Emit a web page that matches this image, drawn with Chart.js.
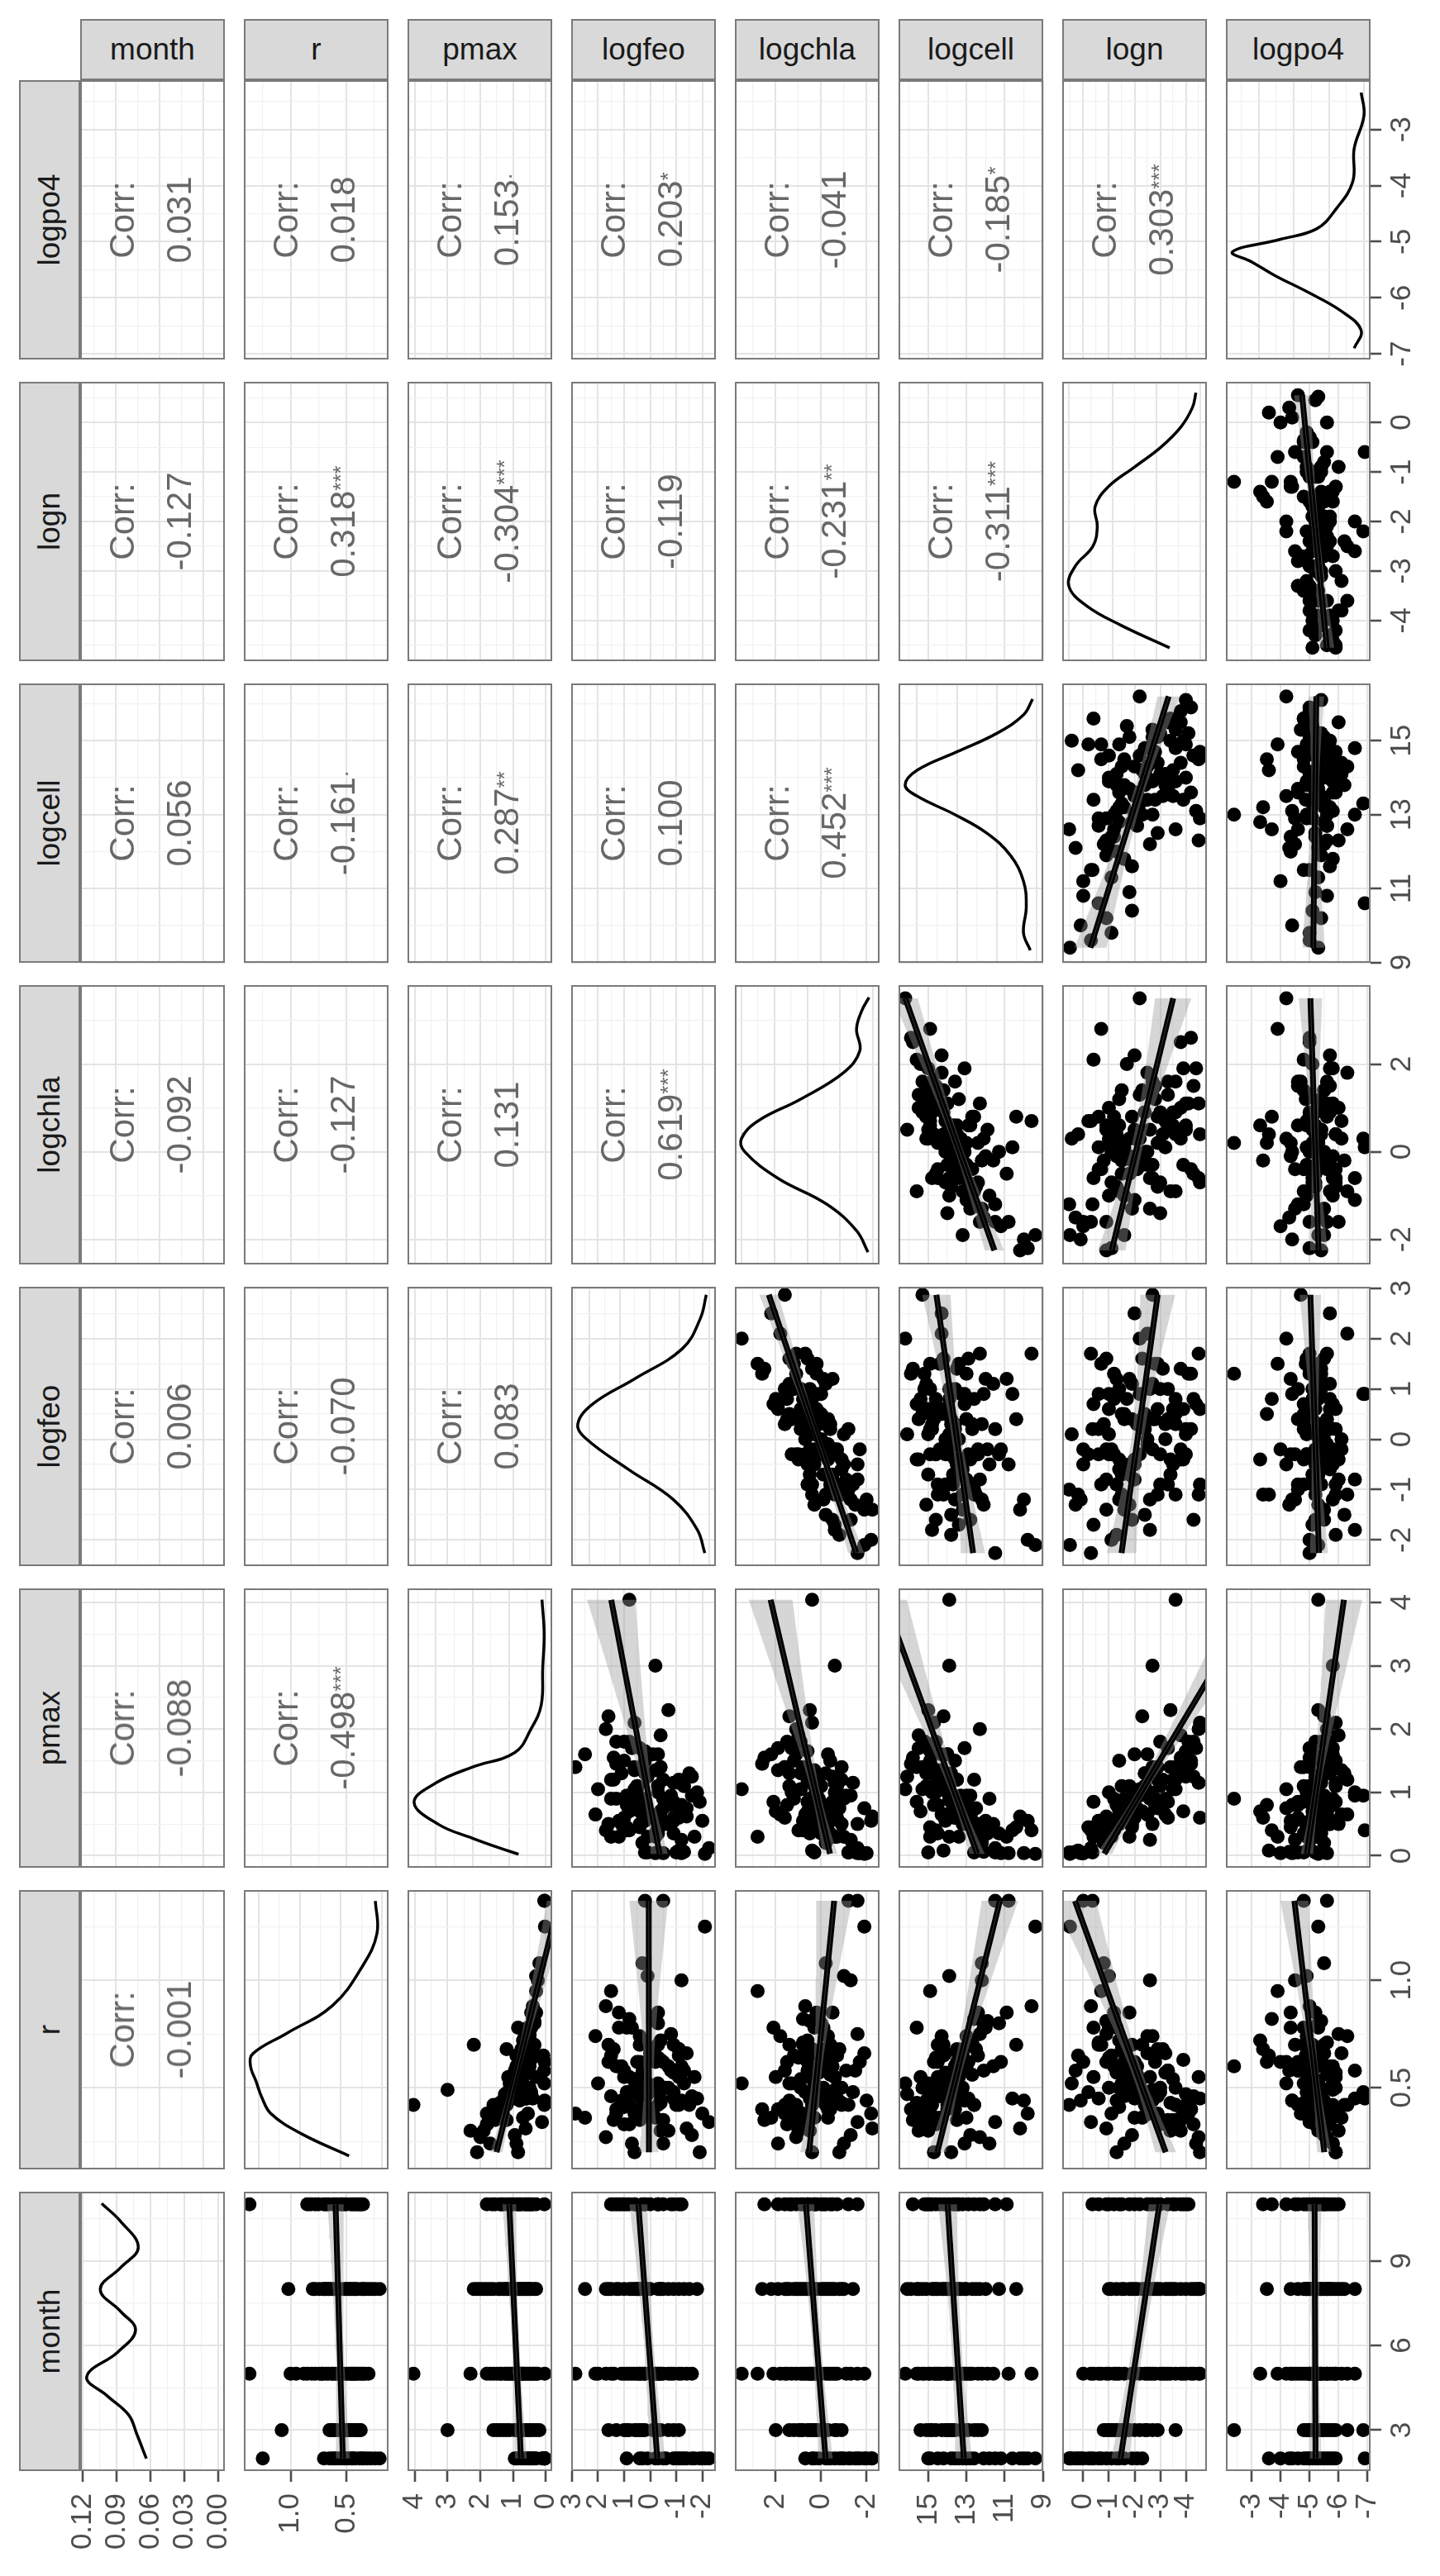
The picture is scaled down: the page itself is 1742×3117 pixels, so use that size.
<!DOCTYPE html>
<html>
<head>
<meta charset="utf-8">
<title>ggpairs</title>
<script src="https://cdn.jsdelivr.net/npm/chart.js@4.4.1/dist/chart.umd.min.js"></script>
<style>
  html, body { margin: 0; padding: 0; background: #fff; }
  body { position: relative; width: 1742px; height: 3117px; overflow: hidden; font-family: "Liberation Sans", Arial, sans-serif; }
  canvas { position: absolute; }
  .frame { position: absolute; box-sizing: border-box; border: 2px solid #7a7a7a; pointer-events: none; }
  .strip { position: absolute; box-sizing: border-box; background: #d9d9d9; border: 2px solid #7a7a7a; color: #1a1a1a; font-size: 37px; display: flex; align-items: center; justify-content: center; }
  .strip span { flex-shrink: 0; white-space: nowrap; }
  .strip.side span { transform: rotate(-90deg); }
  .corr { position: absolute; transform: translate(-50%, -50%) rotate(-90deg); font-size: 42px; line-height: 69px; color: #676767; text-align: center; white-space: nowrap; }
  .corr .sig { font-size: 26px; position: relative; top: -8px; }
</style>
</head>
<body>
<script>
// variables, in the order of the pairs plot
const varNames = ['month', 'r', 'pmax', 'logfeo', 'logchla', 'logcell', 'logn', 'logpo4'];

// samples (same order in every array), grouped by month
const month = [2,2,2,2,2,2,2,2,2,2,2,2,2,2,2,2,2,2,2,2,
  3,3,3,3,3,3,3,3,3,3,3,3,3,3,3,3,3,3,
  5,5,5,5,5,5,5,5,5,5,5,5,5,5,5,5,5,5,5,5,5,5,5,5,5,5,5,5,5,5,5,5,
  8,8,8,8,8,8,8,8,8,8,8,8,8,8,8,8,8,8,8,8,8,8,8,8,8,8,8,8,
  11,11,11,11,11,11,11,11,11,11,11,11,11,11,11,11,11,11,11,11,11,11];
const r = [0.42,0.55,0.31,0.65,0.24,0.48,1.25,0.36,0.58,0.20,0.45,0.62,0.38,0.52,0.28,0.70,0.34,0.50,0.44,0.60,
  0.45,0.52,1.08,0.38,0.60,0.49,0.64,0.42,0.55,0.48,0.40,0.62,0.50,0.37,0.46,0.57,0.41,0.65,
  0.42,0.72,0.48,1.37,0.62,0.40,0.85,0.33,0.58,0.95,0.68,0.45,0.78,0.36,0.60,1.00,0.52,0.42,0.66,0.88,0.30,0.57,0.74,0.46,
  0.50,0.63,0.38,0.71,0.55,0.44,0.81,0.35,
  0.35,1.02,0.70,0.62,0.24,0.45,0.78,0.40,0.56,0.30,0.70,0.48,0.65,0.20,0.58,0.42,0.80,0.50,0.36,0.68,
  0.47,0.60,0.33,0.74,0.52,0.27,0.66,0.43,
  0.55,1.37,0.42,0.68,0.38,0.82,0.50,0.62,0.35,0.75,0.46,0.58,0.85,0.40,0.66,0.52,0.54,0.70,0.44,0.60,0.37,0.78];
const pmax = [0.05,0.30,0.62,0.08,0.90,0.45,0.03,0.70,0.06,0.85,0.40,0.04,0.55,0.05,0.95,0.35,0.12,0.50,0.04,0.75,
  0.6,1.1,0.2,1.4,0.9,3.0,0.4,1.2,0.7,0.95,1.6,0.5,0.8,1.3,0.85,0.55,1.5,0.3,
  4.04,0.7,1.1,0.04,0.8,1.5,0.45,1.8,0.95,0.3,1.2,0.6,0.85,1.35,0.5,0.25,1.05,1.6,0.75,0.4,2.3,0.9,0.65,1.25,
  1.0,0.7,1.4,0.55,1.15,0.8,0.35,1.7,
  1.2,0.3,2.2,0.8,1.7,1.0,0.55,1.45,0.7,1.9,0.45,1.15,0.9,2.1,0.6,1.3,0.35,1.05,1.6,0.75,
  1.25,0.85,1.8,0.5,1.1,2.0,0.65,1.4,
  0.9,0.05,1.4,0.6,1.8,0.4,1.1,0.75,1.55,0.5,1.2,0.85,0.3,1.35,0.65,1.0,1.05,0.55,1.3,0.8,1.65,0.45];
const logfeo = [-1.0,-1.7,-1.4,-1.1,-0.5,-0.3,-2.1,0.4,-1.3,-1.9,0.9,-0.2,-2.0,0.1,-1.6,-0.9,-2.26,-0.6,-1.2,0.3,
  -0.4,0.5,0.3,0.6,1.3,-0.2,-0.3,-1.1,0.8,0.9,-0.1,1.6,-0.7,0.2,0.4,-0.9,1.0,-0.2,
  0.8,-0.4,0.5,-0.5,0.4,0.2,-0.3,1.0,-0.8,1.5,1.4,-0.9,0.7,-0.2,1.1,-1.2,2.0,-0.3,-1.4,1.7,-0.7,0.3,2.1,-1.6,
  0.6,-0.4,2.87,0.2,-1.1,0.9,-0.2,0.4,
  -0.5,0.1,1.6,0.5,0.7,-1.8,1.2,1.3,0.3,-0.4,0.4,-0.9,1.5,0.6,1.0,-1.5,-0.3,0.5,2.5,-1.1,
  0.1,-0.7,0.8,0.4,-1.3,1.7,0.0,-0.4,
  1.0,0.2,0.3,-1.1,1.3,0.8,-0.3,-0.5,1.4,-0.8,1.5,-0.9,1.2,0.6,0.0,-0.3,0.6,-0.3,1.1,-1.2,0.2,0.9];
const logchla = [-1.2,-0.6,-2.25,0.4,-1.0,0.7,-1.9,-0.3,-1.5,-0.8,0.1,-1.7,-2.2,0.3,-1.3,-0.4,-1.6,-0.9,-2.0,-0.2,
  0.5,1.4,-0.2,0.8,0.2,-0.6,1.0,-0.9,2.0,0.3,-0.3,0.6,-0.1,0.9,0.1,0.4,1.2,-0.7,
  0.4,0.6,0.0,-1.6,1.5,-0.4,0.2,0.9,-1.1,2.8,0.4,-0.7,2.1,0.3,-0.2,-1.3,3.5,1.1,-1.9,0.7,0.5,0.1,1.8,-0.5,
  0.2,-0.3,1.6,0.8,-0.6,0.0,0.5,1.3,
  0.6,-1.0,1.4,0.2,1.9,-0.6,-0.1,2.6,-0.4,1.0,0.8,-1.4,1.2,0.4,1.6,-0.2,0.0,0.9,2.2,-0.8,
  0.5,-0.5,1.5,-0.3,0.3,1.1,0.7,-0.9,
  0.5,-1.2,1.6,-0.2,1.1,0.8,-0.7,0.3,2.5,-1.6,0.2,0.6,-0.5,1.9,0.0,1.3,0.9,-0.4,1.4,-0.1,0.6,0.3];
const logcell = [12.6,13.4,10.2,14.2,11.8,14.9,9.4,13.0,12.1,13.8,10.6,11.2,9.8,15.0,12.8,14.5,11.5,13.2,10.0,13.6,
  13.6,14.3,12.2,15.1,13.0,13.9,14.6,12.6,15.4,13.3,14.0,12.9,13.7,14.8,13.8,14.1,14.9,12.4,
  13.9,12.8,14.1,10.8,14.7,13.6,12.4,15.2,13.0,14.9,13.5,12.9,15.6,14.4,11.6,12.2,16.2,14.0,13.2,9.6,15.0,13.8,14.3,14.6,
  14.0,13.4,15.3,12.7,14.5,13.1,11.9,15.5,
  13.5,13.9,14.2,14.5,13.1,14.8,12.0,15.9,12.7,15.5,10.4,14.0,13.4,14.7,13.6,13.8,11.3,15.3,14.3,12.5,
  16.1,13.3,14.6,13.0,15.1,12.3,14.1,15.6,
  13.9,11.5,14.8,13.2,15.2,12.6,14.1,13.5,15.8,12.3,14.4,13.7,10.9,15.0,13.4,14.6,14.2,12.9,15.1,13.6,14.9,12.1];
const logn = [0.55,-0.4,-0.9,0.2,-1.6,-0.2,0.52,-2.3,0.3,-1.3,-0.6,0.0,-1.1,0.45,-1.9,-0.7,-0.3,-1.4,0.1,-2.1,
  -2.0,-1.5,-0.8,-2.9,-1.2,-2.7,-1.0,-3.6,-1.7,-2.2,-2.5,-0.9,-1.8,-2.4,-1.6,-1.3,-1.4,-1.1,
  -3.6,-1.4,-2.4,0.0,-2.8,-4.2,-1.2,-3.0,-2.0,-0.7,-3.1,-4.55,-0.4,-3.8,-1.9,-2.6,-2.2,-4.0,-1.6,-0.3,-3.4,-3.2,-2.5,-4.3,
  -1.0,-3.9,-2.7,-0.6,-4.5,-1.3,-0.9,-3.3,
  -3.5,-1.0,-2.3,-1.6,-4.4,-2.6,-1.3,-4.2,-2.1,-3.8,-1.9,-3.0,-2.8,-4.55,-3.3,-2.4,-1.1,-3.6,-2.0,-2.9,
  -4.0,-1.5,-4.3,-2.7,-1.8,-4.5,-3.2,-3.4,
  -2.6,-0.36,-3.6,-1.5,-4.1,-1.2,-3.0,-2.0,-3.8,-0.9,-2.9,-3.3,-1.8,-3.9,-2.5,-2.2,-3.5,-0.6,-2.7,-1.4,-4.0,-1.0];
const logpo4 = [-4.6,-5.1,-5.4,-3.6,-5.8,-4.9,-5.3,-5.6,-4.3,-5.9,-6.9,-4.0,-5.0,-5.2,-5.5,-4.8,-5.0,-5.7,-4.4,-5.3,
  -5.2,-4.8,-5.5,-5.0,-2.4,-5.8,-5.4,-6.3,-5.1,-6.85,-5.6,-4.9,-5.3,-5.7,-5.0,-5.9,-5.4,-5.2,
  -5.3,-3.3,-5.0,-5.6,-4.6,-5.9,-4.35,-5.2,-6.56,-3.9,-5.4,-5.1,-4.8,-6.1,-5.7,-4.5,-4.2,-5.8,-5.5,-5.0,-5.3,-4.9,-6.3,-5.2,
  -5.1,-5.3,-4.7,-5.6,-5.9,-4.4,-5.4,-5.0,
  -5.2,-4.9,-5.5,-3.53,-5.8,-6.56,-4.35,-5.0,-5.6,-6.0,-5.1,-5.4,-4.87,-5.9,-4.6,-6.2,-5.3,-5.0,-5.7,-5.2,
  -5.4,-5.1,-5.7,-4.9,-5.3,-5.6,-6.1,-4.8,
  -5.1,-4.8,-5.6,-3.4,-5.4,-3.7,-5.9,-4.2,-5.0,-6.0,-5.3,-4.6,-5.2,-5.7,-5.5,-4.9,-5.2,-4.5,-5.5,-5.8,-5.1,-5.3];

// axis limits and breaks per variable
const axisLimits = [[1.55, 11.45], [0.12, 1.42], [-0.19, 4.22], [-2.52, 3.03], [-2.57, 3.8], [8.99, 16.55], [-4.82, 0.82], [-7.1, -2.12]];
const axisBreaks = [[3, 6, 9], [0.5, 1.0], [0, 1, 2, 3, 4], [-2, -1, 0, 1, 2, 3], [-2, 0, 2], [9, 11, 13, 15], [-4, -3, -2, -1, 0], [-7, -6, -5, -4, -3]];
const breakDigits = [0, 1, 0, 0, 0, 0, 0, 0];

// diagonal density curves: [value, density]
const densMonth = [[1.99,0.0638],[2.86,0.0723],[3.54,0.0795],[4.22,0.0987],[4.90,0.1167],[5.77,0.0891],[6.54,0.0734],[7.21,0.0867],[7.99,0.1047],[8.76,0.0867],[9.48,0.0710],[10.4,0.0867],[11.03,0.1035]];
const densR = [[0.183,0.40],[0.286,0.98],[0.379,1.35],[0.454,1.46],[0.528,1.53],[0.603,1.60],[0.659,1.57],[0.753,1.16],[0.883,0.60],[1.07,0.23],[1.219,0.06],[1.369,0.08]];
const densPmax = [[0.024,0.185],[0.117,0.31],[0.275,0.50],[0.49,0.73],[0.84,0.90],[1.15,0.75],[1.40,0.50],[1.63,0.21],[2.0,0.10],[2.38,0.03],[2.95,0.02],[3.51,0.01],[4.043,0.025]];
const densLogfeo = [[-2.26,0.015],[-1.8,0.04],[-1.2,0.12],[-0.6,0.27],[0.0,0.41],[0.3,0.44],[0.7,0.39],[1.2,0.25],[1.8,0.09],[2.4,0.03],[2.87,0.01]];
const densLogchla = [[-2.29,0.015],[-1.8,0.05],[-1.2,0.14],[-0.6,0.29],[0.0,0.39],[0.3,0.40],[0.7,0.35],[1.2,0.22],[1.8,0.09],[2.3,0.04],[2.8,0.05],[3.2,0.035],[3.52,0.012]];
const densLogcell = [[9.33,0.016],[9.8,0.033],[10.5,0.026],[11.2,0.033],[11.9,0.066],[12.5,0.125],[13.0,0.205],[13.5,0.30],[13.8,0.33],[14.2,0.30],[14.7,0.20],[15.2,0.10],[15.7,0.033],[16.13,0.01]];
const densLogn = [[-4.55,0.07],[-4.1,0.18],[-3.7,0.26],[-3.3,0.30],[-2.9,0.285],[-2.5,0.245],[-2.1,0.235],[-1.7,0.24],[-1.3,0.21],[-0.9,0.15],[-0.5,0.09],[-0.1,0.045],[0.3,0.018],[0.6,0.01]];
const densLogpo4 = [[-6.90,0.056],[-6.58,0.016],[-6.24,0.128],[-5.90,0.32],[-5.60,0.51],[-5.36,0.64],[-5.18,0.75],[-4.96,0.48],[-4.77,0.27],[-4.42,0.16],[-3.93,0.064],[-3.34,0.056],[-2.75,0.0],[-2.34,0.016]];
const densityBreaks = [[0, 0.03, 0.06, 0.09, 0.12], [0, 0.5, 1, 1.5], [0, 0.25, 0.5, 0.75], [0, 0.1, 0.2, 0.3, 0.4], [0, 0.1, 0.2, 0.3, 0.4], [0, 0.1, 0.2, 0.3], [0, 0.1, 0.2, 0.3], [0, 0.2, 0.4, 0.6]];

// correlation labels: [column variable, row variable, value, stars]
const corrLabels = [
  ['month', 'logpo4', '0.031', ''], ['r', 'logpo4', '0.018', ''], ['pmax', 'logpo4', '0.153', '.'], ['logfeo', 'logpo4', '0.203', '*'],
  ['logchla', 'logpo4', '-0.041', ''], ['logcell', 'logpo4', '-0.185', '*'], ['logn', 'logpo4', '0.303', '***'],
  ['month', 'logn', '-0.127', ''], ['r', 'logn', '0.318', '***'], ['pmax', 'logn', '-0.304', '***'], ['logfeo', 'logn', '-0.119', ''],
  ['logchla', 'logn', '-0.231', '**'], ['logcell', 'logn', '-0.311', '***'],
  ['month', 'logcell', '0.056', ''], ['r', 'logcell', '-0.161', '.'], ['pmax', 'logcell', '0.287', '**'], ['logfeo', 'logcell', '0.100', ''], ['logchla', 'logcell', '0.452', '***'],
  ['month', 'logchla', '-0.092', ''], ['r', 'logchla', '-0.127', ''], ['pmax', 'logchla', '0.131', ''], ['logfeo', 'logchla', '0.619', '***'],
  ['month', 'logfeo', '0.006', ''], ['r', 'logfeo', '-0.070', ''], ['pmax', 'logfeo', '0.083', ''],
  ['month', 'pmax', '-0.088', ''], ['r', 'pmax', '-0.498', '***'],
  ['month', 'r', '-0.001', '']
];

const columns = [month, r, pmax, logfeo, logchla, logcell, logn, logpo4];
const densities = [densMonth, densR, densPmax, densLogfeo, densLogchla, densLogcell, densLogn, densLogpo4];

// panel grid
const PX0 = 97, PY0 = 97, PW = 175, PH = 338, DX = 198, DY = 365;
const STRIP0 = 23, BOTTOM_H = 115, RIGHT_W = 75, MARGIN = 20;

Chart.defaults.font.family = '"Liberation Sans", Arial, sans-serif';

// tick labels under the bottom row and right of the last column
const edgeLabels = {
  id: 'edgeLabels',
  afterDraw(chart, args, opts) {
    const ctx = chart.ctx;
    ctx.save();
    ctx.fillStyle = '#4d4d4d';
    ctx.font = '35px "Liberation Sans", Arial, sans-serif';
    if (opts.bottom) {
      const s = chart.scales.x;
      s.ticks.forEach(t => {
        if (t.minor) return;
        ctx.save();
        ctx.translate(s.getPixelForValue(t.value), s.top + 27);
        ctx.rotate(-Math.PI / 2);
        ctx.textAlign = 'right';
        ctx.textBaseline = 'middle';
        ctx.fillText(t.value.toFixed(opts.bottomDigits), 0, 0);
        ctx.restore();
      });
    }
    if (opts.right) {
      const s = chart.scales.y;
      s.ticks.forEach(t => {
        if (t.minor) return;
        ctx.save();
        ctx.translate(s.left + 21, s.getPixelForValue(t.value));
        ctx.rotate(-Math.PI / 2);
        ctx.textAlign = 'center';
        ctx.textBaseline = 'top';
        ctx.fillText(t.value.toFixed(opts.rightDigits), 0, 0);
        ctx.restore();
      });
    }
    ctx.restore();
  }
};

// major breaks plus ggplot-style minor breaks halfway between them
function breakTicks(breaks, lim) {
  const lo = Math.min(lim[0], lim[1]), hi = Math.max(lim[0], lim[1]);
  const step = breaks[1] - breaks[0];
  const out = breaks.filter(v => v >= lo && v <= hi).map(v => ({ value: v, minor: false }));
  for (let k = -1; k < breaks.length; k++) {
    const v = (k < 0 ? breaks[0] - step : breaks[k]) + step / 2;
    if (v >= lo && v <= hi) out.push({ value: v, minor: true });
  }
  return out.sort((a, b) => a.value - b.value);
}

function panelScale(lim, breaks, position, reverse, edge, size) {
  return {
    type: 'linear', position, reverse, min: lim[0], max: lim[1], bounds: 'data',
    afterBuildTicks: s => { s.ticks = breakTicks(breaks, lim); },
    afterFit: s => {
      if (position === 'bottom') s.height = edge ? size : 0;
      else s.width = edge ? size : 0;
    },
    ticks: { display: false },
    border: { display: false },
    grid: {
      color: c => (c.tick && c.tick.minor) ? '#f1f1f1' : '#e4e4e4',
      lineWidth: c => (c.tick && c.tick.minor) ? 1.2 : 2,
      drawTicks: edge, tickLength: 13, tickWidth: 2.6,
      tickColor: c => (c.tick && c.tick.minor) ? 'rgba(0,0,0,0)' : '#4d4d4d'
    }
  };
}

// least squares fit of h on t with 95% confidence band
function fitLine(t, h) {
  const n = t.length;
  const tm = t.reduce((a, b) => a + b, 0) / n;
  const hm = h.reduce((a, b) => a + b, 0) / n;
  let stt = 0, sth = 0;
  for (let k = 0; k < n; k++) { stt += (t[k] - tm) ** 2; sth += (t[k] - tm) * (h[k] - hm); }
  const b = sth / stt, a = hm - b * tm;
  let sse = 0;
  for (let k = 0; k < n; k++) sse += (h[k] - a - b * t[k]) ** 2;
  return { a, b, tm, stt, n, s: Math.sqrt(sse / (n - 2)), tmin: Math.min(...t), tmax: Math.max(...t) };
}

function drawCell(j, i) {
  const v = 7 - i;
  const bottomEdge = i === 7, rightEdge = j === 7;
  const diag = i + j === 7, upper = i + j < 7;
  const w = PW + 2 * MARGIN + (rightEdge ? RIGHT_W : 0);
  const h = PH + 2 * MARGIN + (bottomEdge ? BOTTOM_H : 0);

  const cv = document.createElement('canvas');
  cv.width = w; cv.height = h;
  cv.style.left = (PX0 + DX * j - MARGIN) + 'px';
  cv.style.top = (PY0 + DY * i - MARGIN) + 'px';
  cv.style.width = w + 'px';
  cv.style.height = h + 'px';
  document.body.appendChild(cv);

  let xLim, xBreaks, xDigits;
  if (diag) {
    const peak = Math.max(...densities[j].map(p => p[1]));
    xLim = [-0.05 * peak, 1.05 * peak];
    xBreaks = densityBreaks[j];
    xDigits = 2;
  } else {
    xLim = axisLimits[j];
    xBreaks = axisBreaks[j];
    xDigits = breakDigits[j];
  }

  const datasets = [];
  if (diag) {
    datasets.push({
      data: densities[j].map(p => ({ x: p[1], y: p[0] })),
      showLine: true, borderColor: '#000', borderWidth: 3.5, pointRadius: 0, tension: 0.4, clip: 0
    });
  } else if (!upper) {
    const t = columns[v], hv = columns[j];
    const f = fitLine(t, hv);
    const q = 1.98;
    const steps = 30;
    const upperSide = [], lowerSide = [];
    for (let k = 0; k <= steps; k++) {
      const tt = f.tmin + (f.tmax - f.tmin) * k / steps;
      const pred = f.a + f.b * tt;
      const se = f.s * Math.sqrt(1 / f.n + (tt - f.tm) ** 2 / f.stt);
      upperSide.push({ x: pred + q * se, y: tt });
      lowerSide.unshift({ x: pred - q * se, y: tt });
    }
    const ends = [{ x: f.a + f.b * f.tmin, y: f.tmin }, { x: f.a + f.b * f.tmax, y: f.tmax }];
    datasets.push({ data: ends, showLine: true, borderColor: 'rgba(150,150,150,0.45)', borderWidth: 0.8, pointRadius: 0, clip: 0 });
    datasets.push({ data: ends, showLine: true, borderColor: '#000', borderWidth: 7, pointRadius: 0, clip: 0 });
    datasets.push({
      data: upperSide.concat(lowerSide), showLine: true, borderWidth: 0, pointRadius: 0, tension: 0,
      fill: 'shape', backgroundColor: 'rgba(153,153,153,0.4)', borderColor: 'rgba(0,0,0,0)', clip: 0
    });
    datasets.push({
      data: t.map((tv, k) => ({ x: hv[k], y: tv })),
      pointRadius: 8.5, pointBackgroundColor: '#000', pointBorderWidth: 0, showLine: false, clip: 0
    });
  }

  new Chart(cv, {
    type: 'scatter',
    data: { datasets },
    plugins: [edgeLabels],
    options: {
      responsive: false,
      animation: false,
      devicePixelRatio: 1,
      events: [],
      layout: { padding: MARGIN },
      plugins: {
        legend: { display: false },
        tooltip: { enabled: false },
        edgeLabels: { bottom: bottomEdge, right: rightEdge, bottomDigits: xDigits, rightDigits: breakDigits[v] }
      },
      scales: {
        x: panelScale(xLim, xBreaks, 'bottom', true, bottomEdge, BOTTOM_H),
        y: panelScale(axisLimits[v], axisBreaks[v], 'right', false, rightEdge, RIGHT_W)
      }
    }
  });

  const fr = document.createElement('div');
  fr.className = 'frame';
  fr.style.cssText = `left:${PX0 + DX * j}px;top:${PY0 + DY * i}px;width:${PW}px;height:${PH}px`;
  document.body.appendChild(fr);
}

for (let i = 0; i < 8; i++) {
  for (let j = 0; j < 8; j++) drawCell(j, i);
}

// strips: row labels of the original plot on top, column labels on the left
varNames.forEach((name, j) => {
  const s = document.createElement('div');
  s.className = 'strip';
  s.style.cssText = `left:${PX0 + DX * j}px;top:${STRIP0}px;width:${PW}px;height:${PY0 - STRIP0}px`;
  s.innerHTML = `<span>${name}</span>`;
  document.body.appendChild(s);

  const side = document.createElement('div');
  side.className = 'strip side';
  const i = 7 - j;
  side.style.cssText = `left:${STRIP0}px;top:${PY0 + DY * i}px;width:${PX0 - STRIP0}px;height:${PH}px`;
  side.innerHTML = `<span>${name}</span>`;
  document.body.appendChild(side);
});

// correlation text in the upper triangle
corrLabels.forEach(([colVar, rowVar, value, stars]) => {
  const j = varNames.indexOf(colVar), i = 7 - varNames.indexOf(rowVar);
  const d = document.createElement('div');
  d.className = 'corr';
  d.style.left = (PX0 + DX * j + PW / 2) + 'px';
  d.style.top = (PY0 + DY * i + PH / 2) + 'px';
  d.innerHTML = `<div>Corr:</div><div>${value}<span class="sig">${stars}</span></div>`;
  document.body.appendChild(d);
});
</script>
</body>
</html>
